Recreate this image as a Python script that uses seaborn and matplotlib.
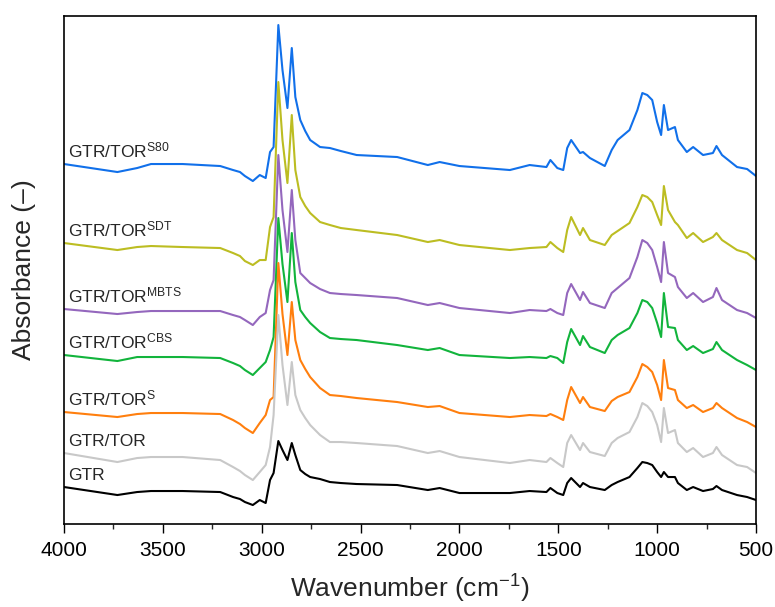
import numpy as np
import pandas as pd
import seaborn as sns
import matplotlib.pyplot as plt
from matplotlib.ticker import MultipleLocator

# wavenumber points (cm-1)
wavenumber = [4000, 3730, 3630, 3560, 3400, 3210, 3145, 3110, 3085, 3045,
              3010, 2980, 2958, 2940, 2916, 2895, 2870, 2848, 2830, 2805,
              2780, 2755, 2705, 2655, 2600, 2520, 2315, 2160, 2100, 2000,
              1745, 1645, 1560, 1540, 1505, 1475, 1455, 1435, 1390, 1375,
              1340, 1265, 1230, 1200, 1140, 1100, 1075, 1050, 1025, 1000,
              980, 966, 945, 910, 895, 850, 818, 768, 718, 700,
              672, 596, 545, 500]

# stacked absorbance values (x100, arbitrary units)
gtr_s80 = [360, 352, 356, 360, 360, 358, 354, 352, 348, 343,
           349, 346, 372, 377, 499, 454, 416, 476, 427, 404,
           393, 384, 377, 376, 373, 369, 367, 359, 362, 358,
           354, 359, 357, 364, 356, 354, 376, 384, 371, 372,
           366, 358, 374, 384, 394, 414, 431, 429, 424, 402,
           389, 419, 394, 397, 384, 372, 377, 369, 371, 378,
           369, 357, 355, 348]
gtr_sdt = [281, 274, 277, 278, 277, 276, 271, 268, 263, 259,
           264, 264, 297, 307, 442, 384, 341, 409, 354, 327,
           318, 311, 302, 299, 296, 294, 289, 282, 284, 279,
           274, 276, 277, 282, 276, 272, 294, 307, 289, 296,
           284, 279, 289, 293, 301, 317, 329, 327, 322, 309,
           299, 338, 314, 302, 299, 286, 291, 282, 287, 291,
           284, 274, 271, 264]
gtr_mbts = [215, 210, 212, 213, 213, 213, 209, 207, 204, 199,
            207, 211, 234, 244, 369, 314, 272, 334, 284, 251,
            246, 241, 235, 231, 230, 229, 226, 219, 221, 216,
            211, 214, 213, 215, 211, 209, 231, 240, 224, 232,
            221, 216, 231, 236, 246, 267, 284, 281, 274, 257,
            242, 282, 251, 247, 237, 226, 231, 222, 227, 236,
            224, 214, 211, 206]
gtr_cbs = [169, 163, 167, 167, 167, 166, 161, 158, 154, 149,
           156, 162, 174, 187, 306, 260, 222, 291, 242, 214,
           207, 201, 192, 186, 185, 184, 179, 174, 176, 169,
           166, 167, 166, 168, 166, 161, 182, 195, 179, 188,
           177, 171, 184, 189, 196, 211, 224, 222, 216, 201,
           187, 231, 197, 196, 184, 174, 178, 171, 175, 182,
           174, 164, 159, 154]
gtr_s = [112, 107, 110, 111, 111, 110, 104, 100, 96, 91,
         101, 109, 124, 127, 261, 210, 169, 222, 184, 164,
         155, 147, 136, 129, 128, 126, 122, 117, 118, 111,
         107, 109, 108, 110, 107, 104, 124, 137, 121, 127,
         117, 113, 123, 127, 132, 147, 160, 157, 152, 139,
         124, 164, 136, 134, 124, 116, 119, 112, 116, 121,
         116, 106, 102, 97]
gtr_tor = [71, 62, 66, 67, 67, 64, 57, 53, 49, 44,
           52, 59, 77, 109, 209, 159, 119, 162, 129, 114,
           106, 99, 89, 82, 82, 81, 78, 71, 73, 67,
           61, 64, 62, 66, 61, 57, 81, 89, 74, 81,
           72, 68, 81, 86, 92, 107, 121, 118, 112, 99,
           82, 116, 91, 94, 81, 72, 76, 67, 71, 77,
           69, 59, 57, 51]
gtr = [37, 29, 32, 33, 33, 32, 27, 25, 22, 19,
       24, 21, 44, 51, 83, 74, 64, 81, 69, 54,
       50, 47, 45, 42, 41, 40, 39, 34, 36, 31,
       31, 33, 32, 36, 31, 29, 41, 46, 37, 41,
       37, 34, 39, 42, 47, 56, 62, 61, 59, 52,
       47, 52, 47, 47, 41, 34, 37, 33, 35, 38,
       34, 29, 27, 24]

labels = [r'GTR/TOR$^{\mathregular{S80}}$', r'GTR/TOR$^{\mathregular{SDT}}$',
          r'GTR/TOR$^{\mathregular{MBTS}}$', r'GTR/TOR$^{\mathregular{CBS}}$',
          r'GTR/TOR$^{\mathregular{S}}$', 'GTR/TOR', 'GTR']
series = [gtr_s80, gtr_sdt, gtr_mbts, gtr_cbs, gtr_s, gtr_tor, gtr]
colors = ['#1170ea', '#bcbd22', '#9467bd', '#12b43c', '#ff7f0e', '#c8c8c8', '#000000']

sns.set_style('ticks')
plt.rcParams['font.family'] = ['Liberation Sans', 'DejaVu Sans']
plt.rcParams['mathtext.fontset'] = 'custom'
plt.rcParams['mathtext.rm'] = 'Liberation Sans'
plt.rcParams['mathtext.default'] = 'regular'

fig = plt.figure(figsize=(7.75, 6.07), dpi=100)
ax = fig.add_axes([0.0826, 0.1367, 0.8929, 0.8369])

for lab, vals, col in zip(labels, series, colors):
    absorb = np.array(vals) / 100
    sns.lineplot(x=wavenumber, y=absorb, color=col, lw=1.5, ax=ax)
    ax.text(3980, absorb[0] + 0.07, lab, fontsize=12.5, ha='left', va='baseline')

ax.set_xlim(4000, 500)
ax.set_ylim(0, 5.08)
ax.xaxis.set_major_locator(MultipleLocator(500))
ax.xaxis.set_minor_locator(MultipleLocator(250))
ax.tick_params(axis='x', which='major', direction='out', length=6.5, width=1,
               labelsize=15, colors='black', pad=6)
ax.tick_params(axis='x', which='minor', direction='out', length=3.6, width=1)
ax.set_yticks([])
for sp in ax.spines.values():
    sp.set_visible(True)
    sp.set_color('black')
    sp.set_linewidth(1.2)

ax.set_xlabel('Wavenumber (cm$^{-1}$)', fontsize=19, labelpad=9)
ax.set_ylabel('Absorbance (–)', fontsize=19, labelpad=20)

fig.savefig('out.png', dpi=100)
